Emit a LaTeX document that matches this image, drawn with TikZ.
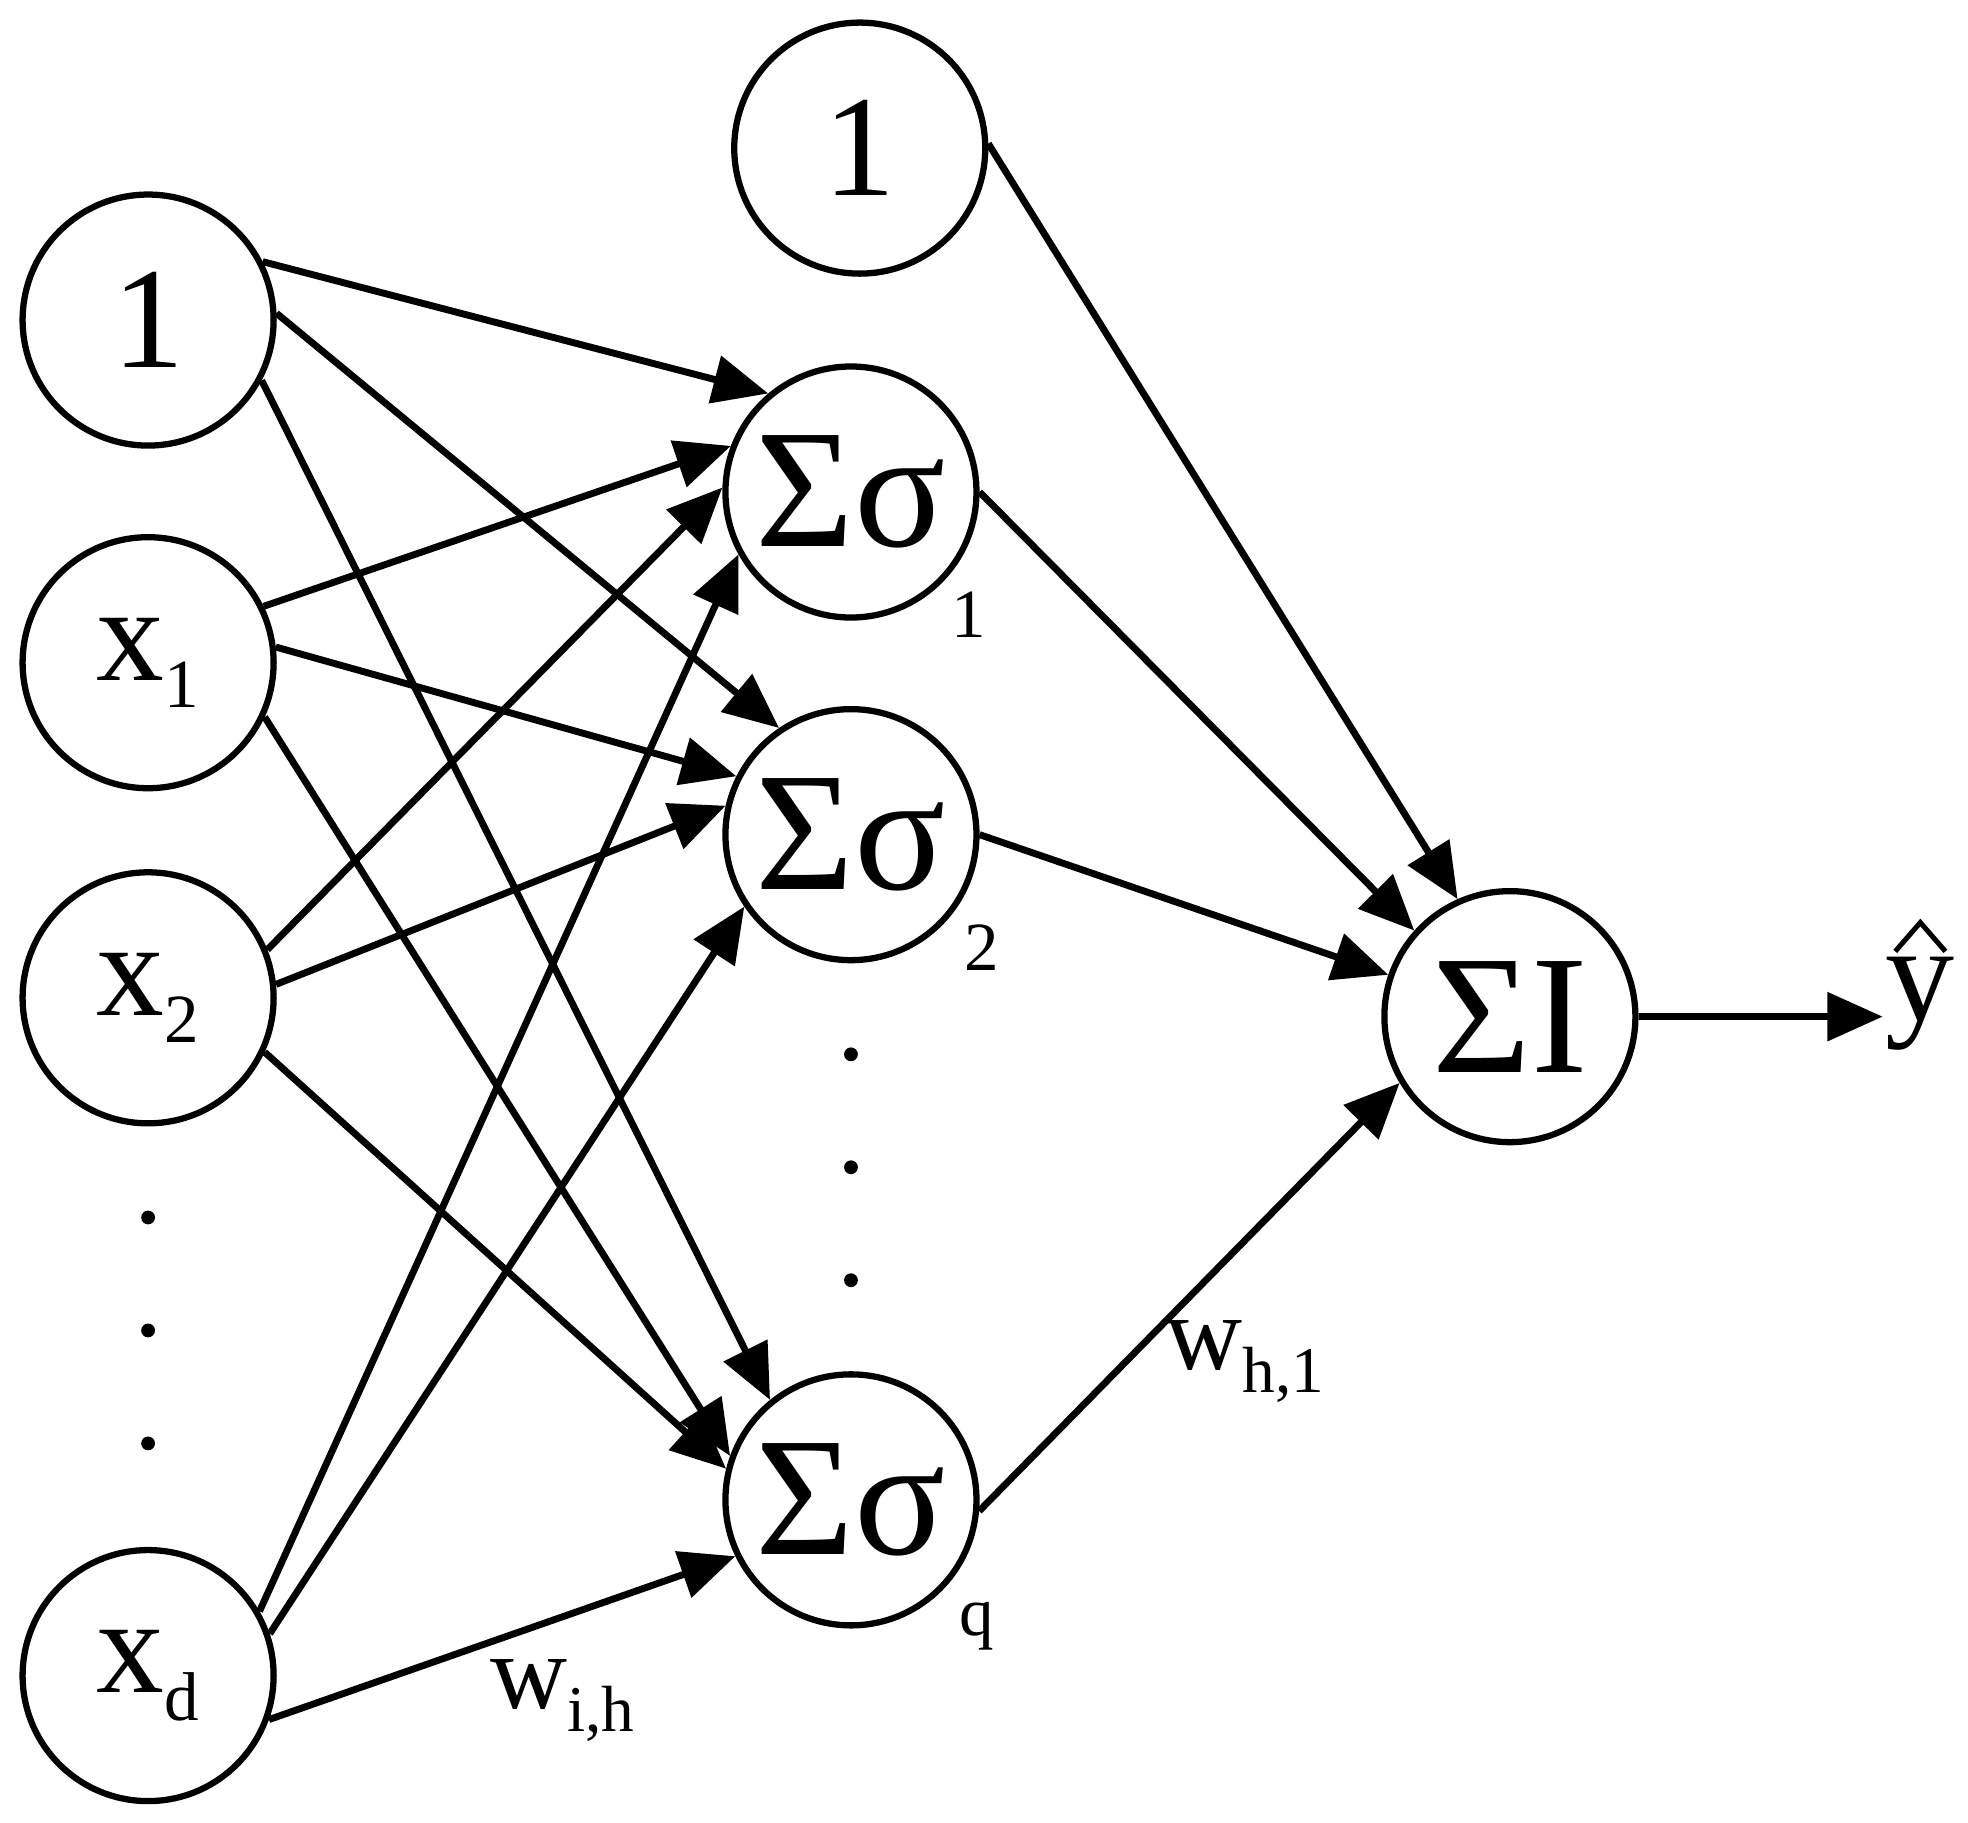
\documentclass[tikz,border=0pt]{standalone}
\usepackage{fontspec}
\setmainfont{Liberation Serif}
\usetikzlibrary{arrows.meta}
\begin{document}
\begin{tikzpicture}[x=1pt,y=-1pt,
  neuron/.style={circle,draw,line width=5pt,minimum size=200pt,inner sep=0pt,font=\fontsize{115}{115}\selectfont},
  edge/.style={line width=5.5pt,-{Triangle[length=44pt,width=38pt]}},
  sub/.style={font=\fontsize{55}{55}\selectfont},
  dot/.style={circle,fill,inner sep=0pt,minimum size=11pt}]
\useasboundingbox (0,0) rectangle (1568,1452);
\newcommand{\sbs}[1]{\raisebox{-22pt}{\fontsize{55}{55}\selectfont #1}}
\node[neuron] (i0) at (118,255) {1};
\node[neuron,font=\fontsize{108}{108}\selectfont] (i1) at (118,528) {x\sbs{1}};
\node[neuron,font=\fontsize{108}{108}\selectfont] (i2) at (118,795) {x\sbs{2}};
\node[neuron,font=\fontsize{108}{108}\selectfont] (id) at (118,1335) {x\sbs{d}};
\node[dot] (d1) at (118,970) {};
\node[dot] (d2) at (118,1060) {};
\node[dot] (d3) at (118,1150) {};
\node[neuron] (b) at (685,118) {1};
\node[neuron,font=\fontsize{135}{135}\selectfont] (h1) at (678,392) {Σσ};
\node[neuron,font=\fontsize{135}{135}\selectfont] (h2) at (678,665) {Σσ};
\node[neuron,font=\fontsize{135}{135}\selectfont] (hq) at (678,1195) {Σσ};
\node[sub] (s1) at (772,490) {1};
\node[sub] (s2) at (782,755) {2};
\node[sub] (sq) at (778,1296) {q};
\node[dot] (e1) at (678,840) {};
\node[dot] (e2) at (678,930) {};
\node[dot] (e3) at (678,1020) {};
\node[neuron,font=\fontsize{135}{135}\selectfont] (o) at (1203,810) {ΣI};
\node[font=\fontsize{110}{110}\selectfont] (y) at (1530,800) {y};
\draw[line width=4pt] (1510,758) -- (1530,735) coordinate (hat) -- (1550,758);
\node[font=\fontsize{85}{85}\selectfont] (w1) at (448,1355) {w\raisebox{-18pt}{\fontsize{52}{52}\selectfont i,h}};
\node[font=\fontsize{85}{85}\selectfont] (w2) at (992,1085) {w\raisebox{-18pt}{\fontsize{52}{52}\selectfont h,1}};
\draw[edge] (i0.27) -- (h1.130);
\draw[edge] (i0.3) -- (h2.124);
\draw[edge] (i0.-28) -- (hq.129);
\draw[edge] (i1.26) -- (h1.159);
\draw[edge] (i1.7) -- (h2.153);
\draw[edge] (i1.-25) -- (hq.160);
\draw[edge] (i2.22) -- (h1.178);
\draw[edge] (i2.6) -- (h2.167);
\draw[edge] (i2.-25) -- (hq.166);
\draw[edge] (id.30) -- (h1.209);
\draw[edge] (id.19) -- (h2.214);
\draw[edge] (id.-20) -- (hq.206);
\draw[edge] (b.2) -- (o.114);
\draw[edge] (h1.0) -- (o.138);
\draw[edge] (h2.0) -- (o.161);
\draw[edge] (hq.-5) -- (o.211);
\draw[edge] (o.0) -- (1500,810) coordinate (yt);
\end{tikzpicture}
\end{document}
